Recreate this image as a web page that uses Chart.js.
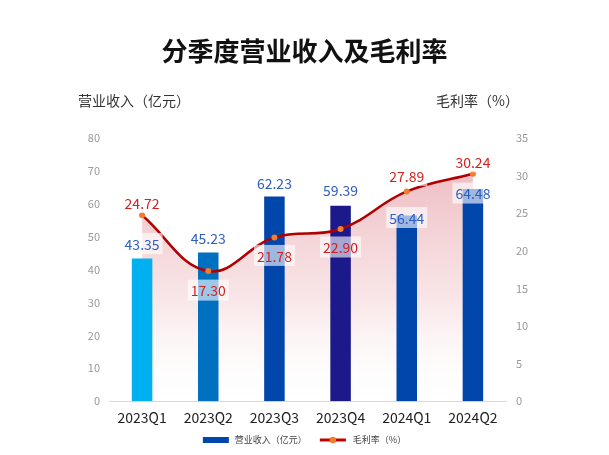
<!DOCTYPE html>
<html>
<head>
<meta charset="utf-8">
<script src="https://cdn.jsdelivr.net/npm/chart.js@4.4.1/dist/chart.umd.min.js"></script>
<style>
  html, body { margin: 0; padding: 0; background: #fff; }
  #wrap { width: 609px; height: 455px; }
</style>
</head>
<body>
<div id="wrap"><canvas id="chart" width="609" height="455"></canvas></div>
<script>
// chart data
const quarters = ['2023Q1', '2023Q2', '2023Q3', '2023Q4', '2024Q1', '2024Q2'];
const revenue = [43.35, 45.23, 62.23, 59.39, 56.44, 64.48];
const grossMargin = [24.72, 17.30, 21.78, 22.90, 27.89, 30.24];
const revenueLabel = '营业收入（亿元）';
const marginLabel = '毛利率（%）';
const revenueMax = 80;
const marginMax = 35;

const barColors = ['#00b0f0', '#0070c0', '#0046ab', '#1c1a8a', '#0046ab', '#0046ab'];
const CJK = '"Noto Sans CJK SC", "Noto Sans", sans-serif';

// draws title, axis titles, legend and value labels
const decorPlugin = {
    id: 'decor',
    afterDraw(chart) {
        const ctx = chart.ctx;
        const area = chart.chartArea;
        ctx.save();
        ctx.fillStyle = '#111';
        ctx.font = 'bold 26px ' + CJK;
        ctx.textAlign = 'center';
        ctx.textBaseline = 'middle';
        ctx.fillText('分季度营业收入及毛利率', chart.width / 2, 51);

        ctx.fillStyle = '#333';
        ctx.font = '14px ' + CJK;
        ctx.textAlign = 'left';
        ctx.fillText(revenueLabel, area.left - 31, 101);
        ctx.textAlign = 'right';
        ctx.fillText(marginLabel, area.right + 13, 101);

        // legend
        ctx.font = '9px ' + CJK;
        ctx.textAlign = 'left';
        const w1 = ctx.measureText(revenueLabel).width;
        const w2 = ctx.measureText(marginLabel).width;
        const total = 26 + 6 + w1 + 13 + 26 + 7 + w2;
        let x = chart.width / 2 - total / 2;
        const y = 440;
        ctx.fillStyle = '#0046ab';
        ctx.fillRect(x, y - 3, 26, 6);
        x += 32;
        ctx.fillStyle = '#444';
        ctx.fillText(revenueLabel, x, y);
        x += w1 + 13;
        ctx.fillStyle = '#c00000';
        ctx.fillRect(x, y - 1.5, 26, 3);
        ctx.fillStyle = '#f07c2c';
        ctx.beginPath();
        ctx.arc(x + 13, y, 3.2, 0, Math.PI * 2);
        ctx.fill();
        x += 33;
        ctx.fillStyle = '#444';
        ctx.fillText(marginLabel, x, y);
        ctx.restore();
    },
    afterDatasetsDraw(chart) {
        const ctx = chart.ctx;
        const barMeta = chart.getDatasetMeta(0);
        const lineMeta = chart.getDatasetMeta(1);
        const barShift = [-15, -15, -14, -16, 2, 4];
        const lineShift = [-13, 19, 18, 18, -16, -12];

        function label(text, x, y, color) {
            ctx.font = '14px ' + CJK;
            const w = ctx.measureText(text).width + 6;
            ctx.fillStyle = 'rgba(255,255,255,0.62)';
            ctx.fillRect(x - w / 2, y - 10.5, w, 21);
            ctx.fillStyle = color;
            ctx.textAlign = 'center';
            ctx.textBaseline = 'middle';
            ctx.fillText(text, x, y + 1);
        }

        ctx.save();
        barMeta.data.forEach((el, i) => {
            label(revenue[i].toFixed(2), el.x, el.y + barShift[i], '#2c5fbf');
        });
        lineMeta.data.forEach((el, i) => {
            label(grossMargin[i].toFixed(2), el.x, el.y + lineShift[i], '#d41f1f');
        });
        ctx.restore();
    }
};

function initializeChart() {
    const chart = new Chart(document.getElementById('chart'), {
        data: {
            labels: quarters,
            datasets: [{
                type: 'bar',
                label: revenueLabel,
                data: revenue,
                backgroundColor: barColors,
                yAxisID: 'y',
                order: 1,
                barPercentage: 0.31,
                categoryPercentage: 1
            }, {
                type: 'line',
                label: marginLabel,
                data: grossMargin,
                yAxisID: 'y1',
                order: 0,
                borderColor: '#b00000',
                borderWidth: 2.5,
                tension: 0.4,
                pointRadius: 3,
                pointBackgroundColor: '#f07c2c',
                pointBorderWidth: 0,
                fill: 'origin',
                backgroundColor: (context) => {
                    const area = context.chart.chartArea;
                    if (!area) return 'rgba(220,120,130,0.3)';
                    const g = context.chart.ctx.createLinearGradient(0, area.top + 30, 0, area.bottom);
                    g.addColorStop(0, 'rgba(214,96,108,0.42)');
                    g.addColorStop(0.55, 'rgba(228,150,158,0.25)');
                    g.addColorStop(1, 'rgba(255,255,255,0.05)');
                    return g;
                }
            }]
        },
        options: {
            responsive: false,
            animation: false,
            layout: {
                padding: { top: 138, left: 0, right: 0, bottom: 21 }
            },
            scales: {
                x: {
                    grid: { display: false, drawTicks: false },
                    border: { display: true, color: '#d9d9d9' },
                    ticks: {
                        color: '#222',
                        padding: 8,
                        font: { size: 14, family: CJK }
                    }
                },
                y: {
                    position: 'left',
                    min: 0,
                    max: revenueMax,
                    grid: { display: false, drawTicks: false },
                    border: { display: false },
                    ticks: {
                        stepSize: 10,
                        padding: 9,
                        color: '#999',
                        font: { size: 11, family: CJK }
                    },
                    afterFit(scale) { scale.width = 109; }
                },
                y1: {
                    position: 'right',
                    min: 0,
                    max: marginMax,
                    grid: { display: false, drawTicks: false },
                    border: { display: false },
                    ticks: {
                        stepSize: 5,
                        padding: 10,
                        color: '#999',
                        font: { size: 11, family: CJK }
                    },
                    afterFit(scale) { scale.width = 103; }
                }
            },
            plugins: {
                filler: { drawTime: 'beforeDatasetsDraw' },
                title: { display: false },
                tooltip: { enabled: false },
                legend: { display: false }
            }
        },
        plugins: [decorPlugin]
    });
}

document.addEventListener('DOMContentLoaded', initializeChart);
</script>
</body>
</html>
